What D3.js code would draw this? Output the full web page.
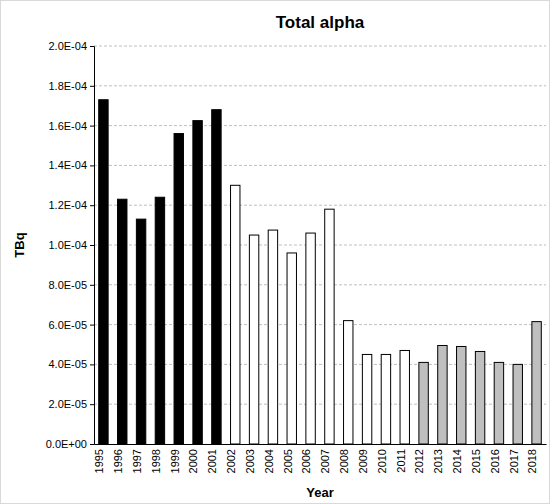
<!DOCTYPE html>
<html><head><meta charset="utf-8">
<script src="https://cdn.jsdelivr.net/npm/d3@7"></script>
<style>body{margin:0;background:#fff}text{font-family:"Liberation Sans",Arial,sans-serif}</style>
</head><body><svg id="c" width="550" height="504"></svg>
<script>
const years=["1995","1996","1997","1998","1999","2000","2001","2002","2003","2004","2005","2006","2007","2008","2009","2010","2011","2012","2013","2014","2015","2016","2017","2018"];
const values=[1.73e-4,1.23e-4,1.13e-4,1.24e-4,1.56e-4,1.625e-4,1.68e-4,1.30e-4,1.05e-4,1.075e-4,0.96e-4,1.06e-4,1.18e-4,0.62e-4,0.45e-4,0.45e-4,0.47e-4,0.41e-4,0.495e-4,0.49e-4,0.465e-4,0.41e-4,0.40e-4,0.615e-4];
const groups=["a","a","a","a","a","a","a","b","b","b","b","b","b","b","b","b","b","c","c","c","c","c","c","c"];
const fills={a:"#000",b:"#fff",c:"#bfbfbf"};
const yTicks=[0,2e-5,4e-5,6e-5,8e-5,1e-4,1.2e-4,1.4e-4,1.6e-4,1.8e-4,2e-4];
const svg=d3.select("#c");
svg.append("rect").attr("x",0.5).attr("y",0.5).attr("width",549).attr("height",503).attr("fill","#fff").attr("stroke","#d9d9d9");
const L=94,R=546,T=46,B=444;
const x=d3.scaleBand().domain(years).range([L,R]).paddingInner(0.5).paddingOuter(0.25);
const y=d3.scaleLinear().domain([0,2e-4]).range([B,T]);
const fmt=v=>{if(v===0)return"0.0E+00";const e=Math.floor(Math.log10(v)+1e-9);const m=v/Math.pow(10,e);return m.toFixed(1)+"E-"+String(-e).padStart(2,"0");};
svg.append("g").selectAll("line").data(yTicks.slice(1)).join("line")
 .attr("x1",L).attr("x2",R).attr("y1",d=>y(d)).attr("y2",d=>y(d)).attr("stroke","#bfbfbf").attr("stroke-dasharray","3,2");
svg.append("g").selectAll("rect").data(years).join("rect")
 .attr("x",d=>x(d)).attr("width",x.bandwidth()).attr("y",(d,i)=>y(values[i])).attr("height",(d,i)=>B-y(values[i]))
 .attr("fill",(d,i)=>fills[groups[i]]).attr("stroke","#000").attr("stroke-width",1);
const ya=svg.append("g").attr("transform",`translate(${L},0)`).call(d3.axisLeft(y).tickValues(yTicks).tickFormat(fmt).tickSize(4));
ya.selectAll("text").attr("font-size",11).attr("fill","#000");
ya.selectAll("line,path").attr("stroke","#000");
const xa=svg.append("g").attr("transform",`translate(0,${B})`).call(d3.axisBottom(x).tickSize(0).tickSizeOuter(0));
xa.select("path").attr("stroke","#000");
xa.selectAll("text").attr("font-size",11).attr("fill","#000").attr("transform","rotate(-90)").attr("text-anchor","end").attr("x",-5).attr("y",-4).attr("dy","0.35em");
svg.append("text").attr("x",(L+R)/2).attr("y",28).attr("text-anchor","middle").attr("font-weight","bold").attr("font-size",17).text("Total alpha");
svg.append("text").attr("x",(L+R)/2).attr("y",497).attr("text-anchor","middle").attr("font-weight","bold").attr("font-size",13).text("Year");
svg.append("text").attr("transform",`translate(24,${(T+B)/2}) rotate(-90)`).attr("text-anchor","middle").attr("font-weight","bold").attr("font-size",13).text("TBq");
</script></body></html>
